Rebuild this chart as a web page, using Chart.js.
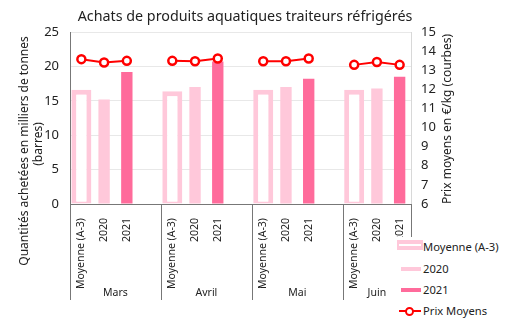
<!DOCTYPE html>
<html lang="fr">
<head>
<meta charset="utf-8">
<title>Achats de produits aquatiques traiteurs réfrigérés</title>
<script src="https://cdn.jsdelivr.net/npm/chart.js@4.4.1/dist/chart.umd.min.js"></script>
<style>
  body { margin: 0; background: #fff; font-family: "Noto Sans", sans-serif; }
  #cadre { position: relative; width: 527px; height: 333px; }
  #legende { position: absolute; left: 395px; top: 237px; width: 128px; height: 86px; background: #fff; font-size: 11.2px; color: #222; }
  .item { position: absolute; left: 0; height: 16px; line-height: 16px; }
  .item span.txt { position: absolute; left: 28px; top: 0; white-space: nowrap; }
  .sym { position: absolute; }
</style>
</head>
<body>
<div id="cadre">
  <canvas id="graphique" width="527" height="333"></canvas>
  <div id="legende">
    <div class="item" style="top:2px">
      <div class="sym" style="left:2px;top:1px;width:26px;height:10px;background:#ffc8da"></div>
      <div class="sym" style="left:4px;top:5px;width:22px;height:2px;background:#fff"></div>
      <span class="txt">Moyenne (A-3)</span>
    </div>
    <div class="item" style="top:24px">
      <div class="sym" style="left:6px;top:6px;width:20px;height:4px;background:#ffc8da"></div>
      <span class="txt">2020</span>
    </div>
    <div class="item" style="top:45px">
      <div class="sym" style="left:6px;top:6px;width:20px;height:4px;background:#ff6b9b"></div>
      <span class="txt">2021</span>
    </div>
    <div class="item" style="top:66px">
      <div class="sym" style="left:4px;top:7px;width:22px;height:2px;background:#ff0000"></div>
      <div class="sym" style="left:10px;top:3.5px;width:5px;height:5px;border:2px solid #ff0000;border-radius:50%;background:#fff"></div>
      <span class="txt">Prix Moyens</span>
    </div>
  </div>
</div>
<script>
// mois et séries
const mois = ['Mars', 'Avril', 'Mai', 'Juin'];
const series = ['Moyenne (A-3)', '2020', '2021'];

// quantités en milliers de tonnes
const qteMoyenne = [16.6, 16.4, 16.6, 16.6];
const qte2020 = [15.2, 17.0, 17.0, 16.8];
const qte2021 = [19.2, 20.7, 18.2, 18.5];

// prix moyens en €/kg (Moyenne, 2020, 2021) par mois
const prixMars = [13.58, 13.40, 13.49];
const prixAvril = [13.49, 13.47, 13.61];
const prixMai = [13.47, 13.47, 13.61];
const prixJuin = [13.28, 13.43, 13.28];
const prix = [prixMars, prixAvril, prixMai, prixJuin];

const ticksQte = [0, 5, 10, 15, 20, 25];
const ticksPrix = [6, 7, 8, 9, 10, 11, 12, 13, 14, 15];

const police = '"Noto Sans", sans-serif';

// une case vide entre chaque mois
let labels = [];
let dMoy = [], d2020 = [], d2021 = [], dPrix = [];
mois.forEach((m, i) => {
  series.forEach(s => labels.push(s));
  dMoy.push(qteMoyenne[i], null, null);
  d2020.push(null, qte2020[i], null);
  d2021.push(null, null, qte2021[i]);
  prix[i].forEach(p => dPrix.push(p));
  if (i < mois.length - 1) {
    labels.push('');
    dMoy.push(null); d2020.push(null); d2021.push(null); dPrix.push(null);
  }
});

// titre, titres d'axes, séparateurs et noms des mois
const habillage = {
  id: 'habillage',
  afterDraw(chart) {
    const ctx = chart.ctx;
    const ca = chart.chartArea;
    const w = (ca.right - ca.left) / labels.length;
    ctx.save();
    ctx.fillStyle = '#222';
    ctx.textAlign = 'center';
    ctx.textBaseline = 'middle';
    ctx.font = '14.3px ' + police;
    ctx.fillText('Achats de produits aquatiques traiteurs réfrigérés', 245, 17);

    ctx.save();
    ctx.translate(25, 151);
    ctx.rotate(-Math.PI / 2);
    ctx.font = '12px ' + police;
    ctx.fillText('Quantités achetées en milliers de tonnes', 0, 0);
    ctx.fillText('(barres)', 7, 14);
    ctx.restore();

    ctx.save();
    ctx.translate(448, (ca.top + ca.bottom) / 2 + 1);
    ctx.rotate(-Math.PI / 2);
    ctx.font = '12px ' + police;
    ctx.fillText('Prix moyens en €/kg (courbes)', 0, 0);
    ctx.restore();

    ctx.strokeStyle = '#777';
    ctx.lineWidth = 1;
    ctx.font = '10.5px ' + police;
    mois.forEach((m, i) => {
      const debut = ca.left + i * 4 * w;
      const fin = Math.min(debut + 4 * w, ca.right);
      ctx.beginPath();
      ctx.moveTo(Math.round(debut) + 0.5, ca.bottom);
      ctx.lineTo(Math.round(debut) + 0.5, ca.bottom + 96);
      ctx.stroke();
      ctx.fillText(m, (debut + fin) / 2, ca.bottom + 89);
    });
    ctx.beginPath();
    ctx.moveTo(Math.round(ca.right) + 0.5, ca.bottom);
    ctx.lineTo(Math.round(ca.right) + 0.5, ca.bottom + 96);
    ctx.stroke();
    ctx.restore();
  }
};

new Chart(document.getElementById('graphique'), {
  type: 'bar',
  data: {
    labels: labels,
    datasets: [{
      type: 'line',
      label: 'Prix Moyens',
      data: dPrix,
      yAxisID: 'y1',
      borderColor: '#ff0000',
      borderWidth: 2,
      pointRadius: 4,
      pointBorderWidth: 2.5,
      pointBackgroundColor: '#fff',
      pointBorderColor: '#ff0000',
      spanGaps: false,
      order: 0
    }, {
      label: 'Moyenne (A-3)',
      data: dMoy,
      backgroundColor: '#fff',
      borderColor: '#ffc8da',
      borderWidth: { top: 5, left: 5, right: 5, bottom: 2 },
      borderSkipped: false,
      barPercentage: 0.88,
      categoryPercentage: 1,
      grouped: false,
      order: 1
    }, {
      label: '2020',
      data: d2020,
      backgroundColor: '#ffc8da',
      barPercentage: 0.5,
      categoryPercentage: 1,
      grouped: false,
      order: 1
    }, {
      label: '2021',
      data: d2021,
      backgroundColor: '#ff6b9b',
      barPercentage: 0.5,
      categoryPercentage: 1,
      grouped: false,
      order: 1
    }]
  },
  options: {
    responsive: false,
    animation: false,
    layout: { padding: { top: 32, left: 0, right: 0, bottom: 0 } },
    plugins: {
      legend: { display: false },
      tooltip: { enabled: false }
    },
    scales: {
      x: {
        grid: { display: false },
        border: { display: true, color: '#777' },
        ticks: {
          autoSkip: false,
          minRotation: 90,
          maxRotation: 90,
          padding: 6,
          color: '#222',
          font: { family: police, size: 10.5 }
        },
        afterFit: s => { s.height = 129; }
      },
      y: {
        position: 'left',
        min: 0,
        max: 25,
        afterBuildTicks: s => { s.ticks = ticksQte.map(v => ({ value: v })); },
        grid: { color: '#e8e8e8', drawTicks: false },
        border: { display: true, color: '#777' },
        ticks: {
          padding: 11,
          color: '#222',
          font: { family: police, size: 13 }
        },
        afterFit: s => { s.width = 70; }
      },
      y1: {
        position: 'right',
        min: 6,
        max: 15,
        afterBuildTicks: s => { s.ticks = ticksPrix.map(v => ({ value: v })); },
        grid: { display: false, drawTicks: false },
        border: { display: true, color: '#d8d8d8' },
        ticks: {
          padding: 10,
          color: '#222',
          font: { family: police, size: 13 }
        },
        afterFit: s => { s.width = 116; }
      }
    }
  },
  plugins: [habillage]
});
</script>
</body>
</html>
